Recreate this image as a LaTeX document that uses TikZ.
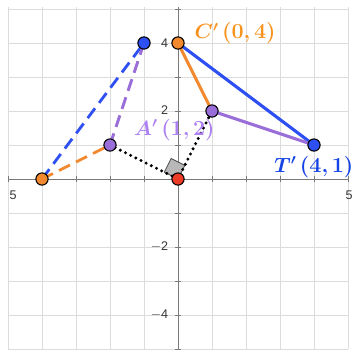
\documentclass[tikz,border=0pt]{standalone}
\usepackage{fontspec}
\usepackage{amsmath}
\newfontfamily\ticksf{Liberation Sans}
\usetikzlibrary{calc}
\definecolor{gridln}{HTML}{DCDCDC}
\definecolor{axisln}{HTML}{7A7A7A}
\definecolor{orng}{HTML}{F2892E}
\definecolor{orngtx}{HTML}{F7931E}
\definecolor{blu}{HTML}{2E4FF2}
\definecolor{blutx}{HTML}{1443E6}
\definecolor{purp}{HTML}{9A6ED8}
\definecolor{purptx}{HTML}{AC80F2}
\definecolor{redpt}{HTML}{EC3B26}
\tikzset{
  pt/.style={circle, draw=black, line width=0.9pt, minimum size=0.36cm, inner sep=0pt},
  side/.style={line width=2.6pt},
  ghost/.style={line width=2.4pt, dash pattern=on 0.36cm off 0.2cm},
  dots/.style={line width=2.8pt, line cap=round, dash pattern=on 0pt off 0.17cm, black},
  tick/.style={font=\ticksf\fontsize{10.5}{12}\selectfont, text=black!80, inner sep=1pt},
  ptlabel/.style={font=\fontsize{18}{20}\selectfont\bfseries, inner sep=1pt},
}
\begin{document}
\begin{tikzpicture}[x=1cm, y=1cm]
  \useasboundingbox (-5.235,-5) rectangle (5.294,5.265);
  % grid and axes
  \draw[gridln, line width=0.7pt] (-5,-5) grid (5,5.05);
  \draw[axisln, line width=0.8pt] (-5,0) -- (5,0);
  \draw[axisln, line width=0.8pt] (0,-5) -- (0,5.06);
  \foreach \i in {-5,...,5} {
    \draw[axisln, line width=0.8pt] (\i,-0.1) -- (\i,0.1);
    \draw[axisln, line width=0.8pt] (-0.1,\i) -- (0.1,\i);
  }
  \node[tick] (xl) at (-4.85,-0.47) {5};
  \node[tick] (xr) at (5.03,-0.47) {5};
  \node[tick, anchor=east] (y4) at (-0.25,4) {4};
  \node[tick, anchor=east] (y2) at (-0.25,2.02) {2};
  \node[tick, anchor=east] (ym2) at (-0.25,-2) {$-$2};
  \node[tick, anchor=east] (ym4) at (-0.25,-4) {$-$4};

  % preimage and image vertices
  \coordinate (O) at (0,0);
  \coordinate (C) at (-4,0);
  \coordinate (A) at (-2,1);
  \coordinate (T) at (-1,4);
  \coordinate (Cp) at (0,4);
  \coordinate (Ap) at (1,2);
  \coordinate (Tp) at (4,1);

  % right angle mark
  \draw[black!70, fill=black!28, line width=0.7pt]
    (O) -- ($(O)!0.45cm!(A)$) -- ($(O)!0.45cm!(A) + (O)!0.45cm!(Ap)$) -- ($(O)!0.45cm!(Ap)$) -- cycle;
  \draw[dots] (A) -- (O) -- (Ap);

  \draw[ghost, blu] (C) -- (T);
  \draw[ghost, orng] (C) -- (A);
  \draw[ghost, purp] (A) -- (T);

  \draw[side, blu] (Cp) -- (Tp);
  \draw[side, orng] (Cp) -- (Ap);
  \draw[side, purp] (Ap) -- (Tp);

  \node[pt, fill=orng] (c) at (C) {};
  \node[pt, fill=purp] (a) at (A) {};
  \node[pt, fill=blu] (t) at (T) {};
  \node[pt, fill=redpt] (o) at (O) {};
  \node[pt, fill=orng] (cp) at (Cp) {};
  \node[pt, fill=purp] (ap) at (Ap) {};
  \node[pt, fill=blu] (tp) at (Tp) {};

  \node[ptlabel, text=orngtx, anchor=west] (lc) at (0.45,4.29) {$\boldsymbol{C'}$\,(0,\,4)};
  \node[ptlabel, text=purptx, anchor=east] (la) at (1.12,1.45) {$\boldsymbol{A'}$\,(1,\,2)};
  \node[ptlabel, text=blutx, anchor=east] (lt) at (5.2,0.35) {$\boldsymbol{T'}$\,(4,\,1)};
\end{tikzpicture}
\end{document}
